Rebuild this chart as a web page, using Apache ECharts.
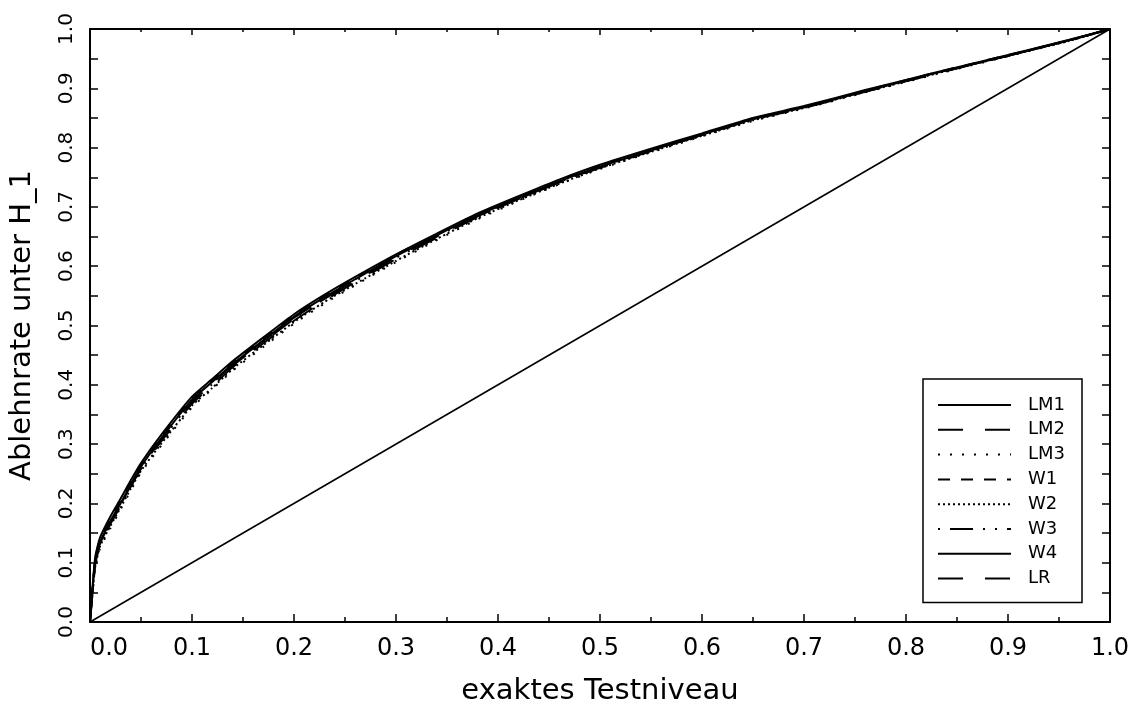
<!DOCTYPE html>
<html>
<head>
<meta charset="utf-8">
<script src="https://cdn.jsdelivr.net/npm/echarts@6/dist/echarts.min.js"></script>
<style>
html,body{margin:0;padding:0;background:#fff;}
#chart{width:1137px;height:711px;}
</style>
</head>
<body>
<div id="chart"></div>
<script>
// ---- data ----
var xTitle = 'exaktes Testniveau';
var yTitle = 'Ablehnrate unter H_1';
var seriesNames = ['LM1', 'LM2', 'LM3', 'W1', 'W2', 'W3', 'W4', 'LR'];
var xs = [0, 0.005, 0.01, 0.02, 0.03, 0.04, 0.05, 0.07, 0.1, 0.12, 0.14, 0.17, 0.2, 0.23, 0.26, 0.3, 0.34, 0.38, 0.42, 0.46, 0.5, 0.55, 0.6, 0.65, 0.7, 0.76, 0.83, 0.9, 0.96, 1.0];
var yLM1 = [0, 0.100, 0.135, 0.170, 0.200, 0.232, 0.262, 0.310, 0.375, 0.405, 0.435, 0.475, 0.515, 0.548, 0.578, 0.617, 0.652, 0.686, 0.715, 0.743, 0.768, 0.795, 0.822, 0.848, 0.868, 0.895, 0.926, 0.955, 0.981, 1.0];
var yLM2 = [0, 0.095, 0.130, 0.165, 0.196, 0.228, 0.258, 0.305, 0.368, 0.398, 0.430, 0.470, 0.508, 0.542, 0.573, 0.612, 0.648, 0.683, 0.713, 0.741, 0.766, 0.794, 0.821, 0.847, 0.867, 0.894, 0.925, 0.955, 0.981, 1.0];
var yLM3 = [0, 0.090, 0.125, 0.158, 0.190, 0.222, 0.252, 0.298, 0.362, 0.393, 0.424, 0.464, 0.503, 0.537, 0.568, 0.607, 0.644, 0.679, 0.710, 0.738, 0.764, 0.792, 0.819, 0.845, 0.866, 0.893, 0.924, 0.954, 0.980, 1.0];
var yW1  = [0, 0.105, 0.140, 0.175, 0.205, 0.236, 0.266, 0.314, 0.378, 0.408, 0.438, 0.478, 0.517, 0.550, 0.580, 0.619, 0.654, 0.688, 0.717, 0.745, 0.770, 0.797, 0.823, 0.849, 0.869, 0.896, 0.927, 0.956, 0.981, 1.0];
var yW2  = [0, 0.092, 0.128, 0.162, 0.193, 0.225, 0.255, 0.301, 0.365, 0.395, 0.427, 0.467, 0.506, 0.540, 0.570, 0.609, 0.646, 0.681, 0.711, 0.739, 0.765, 0.793, 0.820, 0.846, 0.867, 0.894, 0.925, 0.955, 0.980, 1.0];
var yW3  = [0, 0.098, 0.133, 0.168, 0.198, 0.230, 0.260, 0.307, 0.371, 0.401, 0.432, 0.472, 0.511, 0.545, 0.575, 0.614, 0.650, 0.684, 0.713, 0.742, 0.767, 0.795, 0.821, 0.848, 0.868, 0.895, 0.926, 0.955, 0.981, 1.0];
var yW4  = [0, 0.108, 0.143, 0.178, 0.208, 0.239, 0.268, 0.316, 0.380, 0.410, 0.440, 0.480, 0.519, 0.552, 0.582, 0.620, 0.655, 0.689, 0.718, 0.746, 0.771, 0.798, 0.824, 0.850, 0.870, 0.897, 0.927, 0.956, 0.982, 1.0];
var yLR  = [0, 0.100, 0.134, 0.169, 0.199, 0.231, 0.261, 0.309, 0.373, 0.403, 0.434, 0.474, 0.513, 0.546, 0.576, 0.615, 0.651, 0.685, 0.714, 0.742, 0.767, 0.795, 0.822, 0.848, 0.868, 0.895, 0.926, 0.955, 0.981, 1.0];
var diagX = [0, 1];
var diagY = [0, 1];

// ---- styles ----
var FONT = 'DejaVu Sans';
var dashes = {
  LM1: 'solid',
  LM2: [25, 22],
  LM3: [2, 10],
  W1: [12, 11],
  W2: [2, 3],
  W3: [23, 10, 2, 10, 2, 10],
  W4: 'solid',
  LR: [25, 22]
};
var dashOffsets = { W3: 45 };
var allY = [yLM1, yLM2, yLM3, yW1, yW2, yW3, yW4, yLR];

function pairs(xa, ya) { return xa.map(function (x, i) { return [x, ya[i]]; }); }

var series = seriesNames.map(function (n, k) {
  return {
    name: n, type: 'line', data: pairs(xs, allY[k]),
    symbol: 'none', showSymbol: false, smooth: 0.2,
    lineStyle: { color: '#000', width: 2, type: dashes[n], dashOffset: dashOffsets[n] || 0 },
    itemStyle: { color: '#000' },
    z: 3
  };
});
series.push({
  name: 'diag', type: 'line', data: pairs(diagX, diagY), symbol: 'none',
  lineStyle: { color: '#000', width: 1.6 }, z: 2, silent: true
});

var chart = echarts.init(document.getElementById('chart'));
chart.setOption({
  animation: false,
  backgroundColor: '#fff',
  grid: { left: 90, right: 27, top: 29, bottom: 87 },
  legend: {
    data: seriesNames,
    orient: 'vertical',
    left: 923, top: 379,
    padding: [17, 17, 15, 14],
    itemWidth: 73, itemHeight: 14, itemGap: 6.8,
    borderColor: '#000', borderWidth: 1.5, borderRadius: 0,
    backgroundColor: '#fff',
    itemStyle: { color: 'rgba(0,0,0,0)', borderWidth: 0, opacity: 0 },
    textStyle: { color: '#000', fontSize: 18, fontFamily: FONT, padding: [0, 0, 0, 12] }
  },
  xAxis: [{
    type: 'value', min: 0, max: 1, interval: 0.1, position: 'bottom',
    name: xTitle, nameLocation: 'middle', nameGap: 55,
    nameTextStyle: { fontSize: 29, fontFamily: FONT, color: '#000' },
    axisLine: { show: true, onZero: false, lineStyle: { color: '#000', width: 2 } },
    axisTick: { show: true, inside: true, length: 8, lineStyle: { color: '#000', width: 1.5 } },
    minorTick: { show: true, splitNumber: 2, length: 5, lineStyle: { color: '#000', width: 1.5 } },
    splitLine: { show: false },
    axisLabel: {
      margin: 15, fontSize: 24, fontFamily: FONT, color: '#000',
      showMinLabel: true, showMaxLabel: true,
      formatter: function (v) { return v === 0 ? '{first|0.0}' : v.toFixed(1); },
      rich: { first: { fontSize: 24, fontFamily: FONT, color: '#000', padding: [0, 0, 0, 38] } }
    }
  }, {
    type: 'value', min: 0, max: 1, interval: 0.1, position: 'top',
    axisLine: { show: true, onZero: false, lineStyle: { color: '#000', width: 2 } },
    axisTick: { show: true, inside: true, length: 6, lineStyle: { color: '#000', width: 1.5 } },
    minorTick: { show: true, splitNumber: 2, length: 3, lineStyle: { color: '#000', width: 1.5 } },
    splitLine: { show: false },
    axisLabel: { show: false }
  }],
  yAxis: [{
    type: 'value', min: 0, max: 1, interval: 0.1, position: 'left',
    name: yTitle, nameLocation: 'middle', nameGap: 53, nameRotate: 90,
    nameTextStyle: { fontSize: 29, fontFamily: FONT, color: '#000' },
    axisLine: { show: true, onZero: false, lineStyle: { color: '#000', width: 2 } },
    axisTick: { show: true, inside: true, length: 8, lineStyle: { color: '#000', width: 1.5 } },
    minorTick: { show: true, splitNumber: 2, length: 8, lineStyle: { color: '#000', width: 1.5 } },
    splitLine: { show: false },
    axisLabel: {
      rotate: 90, margin: 13, fontSize: 20, fontFamily: FONT, color: '#000',
      showMinLabel: true, showMaxLabel: true,
      formatter: function (v) { return v.toFixed(1); }
    }
  }, {
    type: 'value', min: 0, max: 1, interval: 0.1, position: 'right',
    axisLine: { show: true, onZero: false, lineStyle: { color: '#000', width: 2 } },
    axisTick: { show: true, inside: true, length: 8, lineStyle: { color: '#000', width: 1.5 } },
    minorTick: { show: true, splitNumber: 2, length: 8, lineStyle: { color: '#000', width: 1.5 } },
    splitLine: { show: false },
    axisLabel: { show: false }
  }],
  series: series
});
</script>
</body>
</html>
